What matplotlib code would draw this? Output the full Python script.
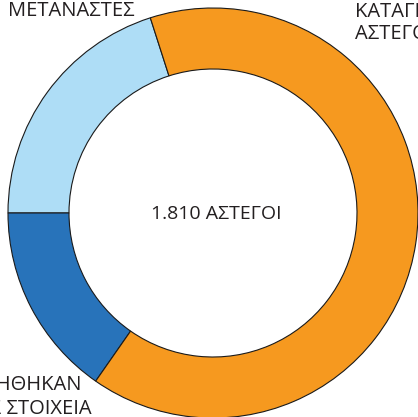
import matplotlib
matplotlib.use("Agg")
import matplotlib.pyplot as plt

# Data
labels = ["ΜΕΤΑΝΑΣΤΕΣ", "ΔΕΝ ΚΑΤΑΧΩΡΗΘΗΚΑΝ\nΠΛΗΡΗΣ ΣΤΟΙΧΕΙΑ", "ΚΑΤΑΓΕΓΡΑΜΜΕΝΟΙ\nΑΣΤΕΓΟΙ"]
values = [363, 277, 1170]
colors = ["#AEDDF6", "#2873BA", "#F6991F"]
total_label = "1.810 ΑΣΤΕΓΟΙ"

plt.rcParams['font.family'] = ['Open Sans', 'DejaVu Sans']
txt_color = "#231F20"

W, H = 418, 417
fig = plt.figure(figsize=(W / 100, H / 100), dpi=100)
ax = fig.add_axes([0, 0, 1, 1])

ax.pie(values, colors=colors, startangle=107.8, counterclock=True,
       radius=205, center=(213, H - 213),
       wedgeprops=dict(width=61, edgecolor="#1a1a1a", linewidth=0.8))

ax.set_xlim(0, W)
ax.set_ylim(0, H)
ax.set_aspect('equal')
ax.axis('off')

fs = 14.5
ax.text(216, H - 214, total_label, ha='center', va='center', fontsize=14, color=txt_color)
ax.text(8, H - 11, labels[0], ha='left', va='center', fontsize=fs, color=txt_color)
# labels below run off the edge in the original too
ax.text(355, H - 23, labels[2], ha='left', va='center', fontsize=fs, color=txt_color,
        linespacing=1.15)
l1, l2 = labels[1].split("\n")
ax.text(81, H - 385, l1, ha='right', va='center', fontsize=fs, color=txt_color)
ax.text(92, H - 409, l2, ha='right', va='center', fontsize=fs, color=txt_color)

fig.savefig("out.png", dpi=100)
